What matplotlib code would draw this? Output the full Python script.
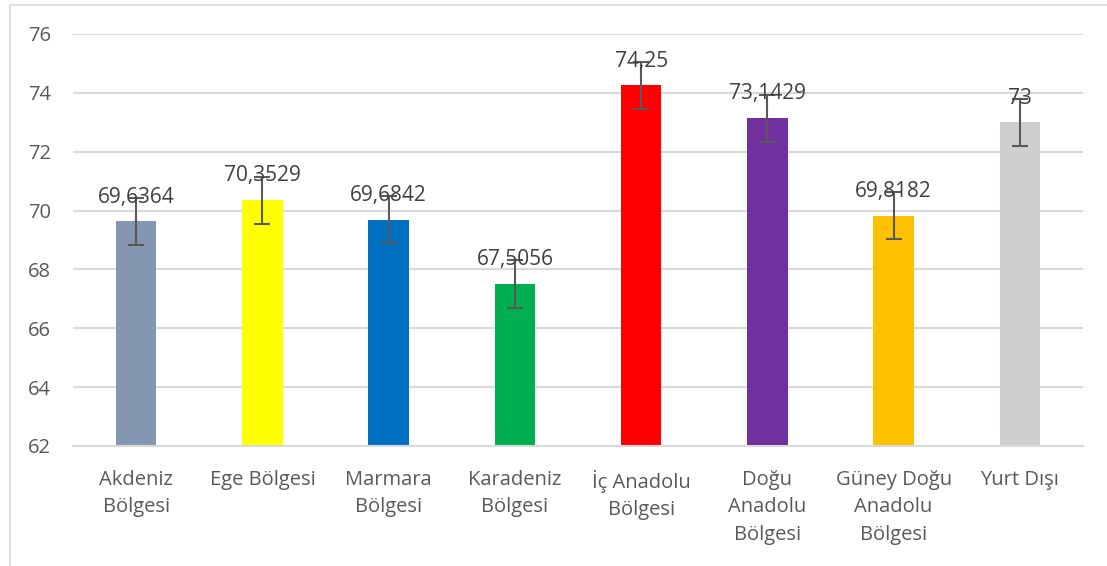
import matplotlib
matplotlib.use("Agg")
import matplotlib.pyplot as plt
from matplotlib.lines import Line2D

categories = ["Akdeniz\nBölgesi", "Ege Bölgesi", "Marmara\nBölgesi", "Karadeniz\nBölgesi",
              "İç Anadolu\nBölgesi", "Doğu\nAnadolu\nBölgesi", "Güney Doğu\nAnadolu\nBölgesi", "Yurt Dışı"]
values = [69.6364, 70.3529, 69.6842, 67.5056, 74.25, 73.1429, 69.8182, 73]
value_labels = ["69,6364", "70,3529", "69,6842", "67,5056", "74,25", "73,1429", "69,8182", "73"]
errors = [0.8, 0.8, 0.8, 0.8, 0.8, 0.8, 0.8, 0.8]
colors = ["#8497B0", "#FFFF00", "#0070C0", "#00B050", "#FF0000", "#7030A0", "#FFC000", "#D0CECE"]
yticks = [62, 64, 66, 68, 70, 72, 74, 76]

plt.rcParams['font.family'] = ['Open Sans', 'DejaVu Sans']
txt = "#595959"

fig = plt.figure(figsize=(11.07, 5.66), dpi=100)
ax = fig.add_axes([73/1107, 1-446/566, (1083-73)/1107, (446-34)/566])

x = list(range(len(categories)))
ax.bar(x, [v - 62 for v in values], bottom=62, width=0.32, color=colors, zorder=2)
ax.errorbar(x, values, yerr=errors, fmt='none', ecolor="#595959", elinewidth=1.5,
            capsize=6, capthick=1.5, zorder=3)
for xi, v, lab in zip(x, values, value_labels):
    ax.annotate(lab, (xi, v), xytext=(0, 13.5), textcoords='offset points',
                ha='center', va='baseline', fontsize=15, color="#404040", zorder=4)

ax.set_ylim(62, 76)
ax.set_xlim(-0.5, len(categories) - 0.5)
ax.set_yticks(yticks)
ax.set_yticklabels([str(t) for t in yticks])
ax.set_xticks(x)
ax.set_xticklabels(categories, linespacing=1.5)
ax.tick_params(axis='y', length=0, pad=16, labelsize=14.5, labelcolor=txt)
ax.tick_params(axis='x', length=0, pad=17, labelsize=14.5, labelcolor=txt)
ax.grid(axis='y', color="#D9D9D9", linewidth=1.5, zorder=0)
for s in ['left', 'right', 'top']:
    ax.spines[s].set_visible(False)
ax.spines['bottom'].set_color("#D9D9D9")
ax.spines['bottom'].set_linewidth(1.5)

fig.add_artist(Line2D([10/1107, 10/1107], [0, 1-5/566], color="#D9D9D9", lw=1.2,
                      transform=fig.transFigure))
fig.add_artist(Line2D([10/1107, 1], [1-5/566, 1-5/566], color="#D9D9D9", lw=1.2,
                      transform=fig.transFigure))

fig.savefig("out.png", dpi=100)
